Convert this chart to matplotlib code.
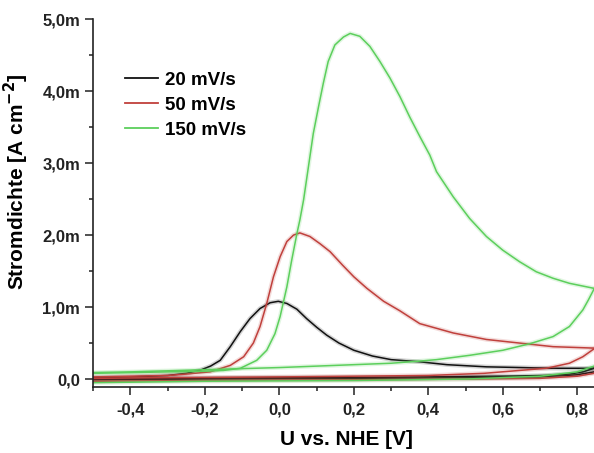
import numpy as np
import matplotlib
matplotlib.use("Agg")
import matplotlib.pyplot as plt
from matplotlib.ticker import MultipleLocator

plt.rcParams['font.family'] = ['Liberation Sans', 'DejaVu Sans']
plt.rcParams['font.weight'] = 'bold'

# forward (anodic) scans, current density in mA/cm2
black_fwd_u = [-0.5, -0.4, -0.3, -0.25, -0.212, -0.185, -0.159, -0.132, -0.105, -0.079, -0.052, -0.025, -0.003,
               0.02, 0.047, 0.073, 0.1, 0.127, 0.16, 0.2, 0.25, 0.3, 0.377, 0.45, 0.556, 0.65, 0.735, 0.845]
black_fwd_i = [0.02, 0.03, 0.05, 0.08, 0.125, 0.18, 0.26, 0.45, 0.66, 0.84, 0.98, 1.06, 1.08,
               1.05, 0.97, 0.84, 0.72, 0.61, 0.5, 0.4, 0.32, 0.27, 0.24, 0.2, 0.17, 0.16, 0.15, 0.15]
red_fwd_u = [-0.5, -0.4, -0.3, -0.25, -0.186, -0.132, -0.096, -0.07, -0.052, -0.034, -0.016, 0.002, 0.02,
             0.038, 0.055, 0.082, 0.109, 0.136, 0.17, 0.2, 0.235, 0.28, 0.323, 0.377, 0.467, 0.556, 0.645,
             0.735, 0.845]
red_fwd_i = [0.03, 0.04, 0.05, 0.07, 0.10, 0.19, 0.31, 0.5, 0.73, 1.05, 1.42, 1.70, 1.91,
             2.0, 2.03, 1.98, 1.88, 1.77, 1.58, 1.42, 1.26, 1.08, 0.95, 0.77, 0.64, 0.55, 0.50,
             0.45, 0.43]
green_fwd_u = [-0.5, -0.4, -0.3, -0.2, -0.15, -0.105, -0.061, -0.034, -0.012, 0.002, 0.02, 0.033, 0.047, 0.055,
               0.065, 0.078, 0.091, 0.105, 0.118, 0.131, 0.149, 0.172, 0.19, 0.216, 0.243, 0.27, 0.297,
               0.324, 0.35, 0.377, 0.404, 0.422, 0.467, 0.511, 0.556, 0.6, 0.645, 0.69, 0.735, 0.779, 0.845]
green_fwd_i = [0.08, 0.09, 0.1, 0.11, 0.12, 0.15, 0.26, 0.40, 0.63, 0.87, 1.28, 1.65, 2.02, 2.21,
               2.49, 2.95, 3.41, 3.78, 4.11, 4.41, 4.64, 4.75, 4.80, 4.76, 4.62, 4.41, 4.18,
               3.92, 3.64, 3.37, 3.11, 2.88, 2.53, 2.23, 1.98, 1.79, 1.63, 1.49, 1.40, 1.33, 1.26]

# reverse (cathodic) scans
black_rev_u = [0.845, 0.815, 0.78, 0.72, 0.6, 0.4, 0.2, 0.0, -0.3, -0.5]
black_rev_i = [0.15, 0.1, 0.07, 0.05, 0.04, 0.03, 0.02, 0.02, 0.01, 0.0]
red_rev_u = [0.845, 0.815, 0.779, 0.717, 0.645, 0.55, 0.4, 0.0, -0.3, -0.5]
red_rev_i = [0.42, 0.31, 0.22, 0.15, 0.12, 0.08, 0.05, 0.03, 0.02, 0.01]
green_rev_u = [0.845, 0.83, 0.815, 0.779, 0.735, 0.672, 0.6, 0.511, 0.422, 0.377, 0.3, 0.2, 0.1, 0.0,
               -0.2, -0.4, -0.5]
green_rev_i = [1.25, 1.1, 0.96, 0.73, 0.59, 0.49, 0.40, 0.33, 0.27, 0.25, 0.22, 0.2, 0.18, 0.16,
               0.13, 0.1, 0.09]

# later cycles lying on the baseline
base_u = [-0.5, -0.2, 0.2, 0.5, 0.7, 0.8, 0.845]
black_base_i = [-0.01, 0.0, 0.01, 0.02, 0.03, 0.06, 0.1]
red_base_i = [-0.03, -0.02, -0.01, 0.0, 0.01, 0.04, 0.08]
green_base_i = [-0.05, -0.03, -0.02, 0.0, 0.04, 0.1, 0.18]

labels = ['20 mV/s', '50 mV/s', '150 mV/s']
colors = ['#111111', '#c0403c', '#5ccf5c']

fig = plt.figure(figsize=(5.94, 4.53), dpi=100)
ax = fig.add_axes([0.157, 0.1457, 0.843, 0.8123])

sets = [
    (black_fwd_u, black_fwd_i, black_rev_u, black_rev_i, black_base_i),
    (red_fwd_u, red_fwd_i, red_rev_u, red_rev_i, red_base_i),
    (green_fwd_u, green_fwd_i, green_rev_u, green_rev_i, green_base_i),
]

for (fu, fi, ru, ri, bi), c, lab in zip(sets, colors, labels):
    for u, i in [(fu, fi), (ru, ri), (base_u, bi)]:
        ax.plot(u, i, color=c, lw=3.2, alpha=0.18, solid_capstyle='round', solid_joinstyle='round')
        ax.plot(u, i, color=c, lw=1.1, solid_joinstyle='round')
    ax.plot([], [], color=c, lw=1.3, label=lab)

ax.set_xlim(-0.5, 0.845)
ax.set_ylim(-0.11, 5.0)

ax.set_xticks([-0.4, -0.2, 0.0, 0.2, 0.4, 0.6, 0.8])
ax.set_xticklabels(['-0,4', '-0,2', '0,0', '0,2', '0,4', '0,6', '0,8'])
ax.set_yticks([0, 1, 2, 3, 4, 5])
ax.set_yticklabels(['0,0', '1,0m', '2,0m', '3,0m', '4,0m', '5,0m'])
ax.xaxis.set_minor_locator(MultipleLocator(0.1))
ax.yaxis.set_minor_locator(MultipleLocator(0.5))

ax.spines['top'].set_visible(False)
ax.spines['right'].set_visible(False)
for s in ['left', 'bottom']:
    ax.spines[s].set_linewidth(1.2)
    ax.spines[s].set_color('#222222')
ax.tick_params(which='major', direction='out', length=5.5, width=1.1, labelsize=12, pad=4, colors='#222222')
ax.tick_params(which='minor', direction='out', length=3, width=1.1, colors='#222222')
ax.tick_params(axis='x', which='major', pad=6)

ax.set_xlabel('U vs. NHE [V]', fontsize=15, fontweight='bold')
ax.xaxis.set_label_coords(0.505, -0.117)
ax.set_ylabel('Stromdichte [A cm$^{\\mathbf{-2}}$]', fontsize=15, fontweight='bold')
ax.yaxis.set_label_coords(-0.125, 0.557)

ax.legend(loc='upper left', bbox_to_anchor=(0.044, 0.882), frameon=False, fontsize=13.5,
          handlelength=1.8, handletextpad=0.37, labelspacing=0.41, borderpad=0)

fig.savefig('out.png', dpi=100)
